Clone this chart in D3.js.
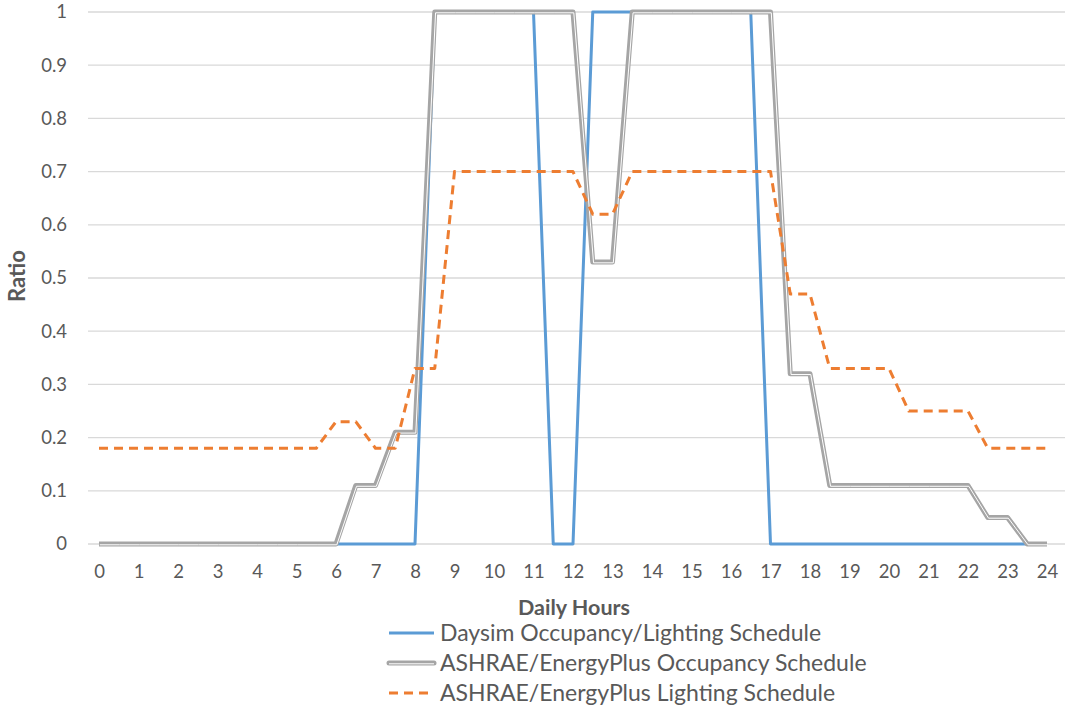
<!DOCTYPE html>
<html>
<head>
<meta charset="utf-8">
<script src="https://cdn.jsdelivr.net/npm/d3@7"></script>
<style>
  html, body { margin: 0; padding: 0; background: #fff; }
  svg { display: block; }
  text { font-family: Lato, "Open Sans", sans-serif; fill: #595959; }
</style>
</head>
<body>
<svg id="chart" width="1065" height="710"></svg>
<script>
// Half-hourly time steps, 0 to 24 h
const hours = d3.range(0, 24.01, 0.5);

// Daysim occupancy / lighting schedule
const daysim = [
  0, 0, 0, 0, 0, 0, 0, 0, 0, 0, 0, 0,      // 0 - 5.5
  0, 0, 0, 0, 0, 1, 1, 1, 1, 1, 1, 0,      // 6 - 11.5
  0, 1, 1, 1, 1, 1, 1, 1, 1, 1, 0, 0,      // 12 - 17.5
  0, 0, 0, 0, 0, 0, 0, 0, 0, 0, 0, 0,      // 18 - 23.5
  0                                        // 24
];

// ASHRAE / EnergyPlus occupancy schedule
const ashraeOcc = [
  0, 0, 0, 0, 0, 0, 0, 0, 0, 0, 0, 0,
  0, 0.11, 0.11, 0.21, 0.21, 1, 1, 1, 1, 1, 1, 1,
  1, 0.53, 0.53, 1, 1, 1, 1, 1, 1, 1, 1, 0.32,
  0.32, 0.11, 0.11, 0.11, 0.11, 0.11, 0.11, 0.11, 0.11, 0.05, 0.05, 0,
  0
];

// ASHRAE / EnergyPlus lighting schedule
const ashraeLight = [
  0.18, 0.18, 0.18, 0.18, 0.18, 0.18, 0.18, 0.18, 0.18, 0.18, 0.18, 0.18,
  0.23, 0.23, 0.18, 0.18, 0.33, 0.33, 0.7, 0.7, 0.7, 0.7, 0.7, 0.7,
  0.7, 0.62, 0.62, 0.7, 0.7, 0.7, 0.7, 0.7, 0.7, 0.7, 0.7, 0.47,
  0.47, 0.33, 0.33, 0.33, 0.33, 0.25, 0.25, 0.25, 0.25, 0.18, 0.18, 0.18,
  0.18
];

const xTicks = d3.range(0, 25, 1);
const yTicks = [0, 0.1, 0.2, 0.3, 0.4, 0.5, 0.6, 0.7, 0.8, 0.9, 1];

const seriesNames = [
  "Daysim Occupancy/Lighting Schedule",
  "ASHRAE/EnergyPlus Occupancy Schedule",
  "ASHRAE/EnergyPlus Lighting Schedule"
];

const svg = d3.select("#chart");

const x = d3.scaleLinear().domain([0, 24]).range([99, 1047]);
const y = d3.scaleLinear().domain([0, 1]).range([544, 12]);

// Horizontal gridlines
svg.append("g")
  .selectAll("line")
  .data(yTicks)
  .join("line")
  .attr("x1", 88).attr("x2", 1065)
  .attr("y1", d => y(d)).attr("y2", d => y(d))
  .attr("stroke", "#d9d9d9").attr("stroke-width", 1.3);

// Y axis labels
const yAxis = d3.axisLeft(y).tickValues(yTicks).tickSize(0).tickPadding(0)
  .tickFormat(d => d3.format("~g")(d));
svg.append("g")
  .attr("transform", "translate(67,0)")
  .call(yAxis)
  .call(g => g.select(".domain").remove())
  .call(g => g.selectAll("text")
    .attr("font-family", "Lato, 'Open Sans', sans-serif")
    .attr("font-size", 18.5).attr("fill", "#595959"));

// X axis labels
const xAxis = d3.axisBottom(x).tickValues(xTicks).tickSize(0).tickPadding(0)
  .tickFormat(d3.format("d"));
svg.append("g")
  .attr("transform", "translate(0,565)")
  .call(xAxis)
  .call(g => g.select(".domain").remove())
  .call(g => g.selectAll("text")
    .attr("font-family", "Lato, 'Open Sans', sans-serif")
    .attr("font-size", 18.5).attr("fill", "#595959"));

// Axis titles
svg.append("text")
  .attr("transform", "translate(25,276) rotate(-90)")
  .attr("text-anchor", "middle")
  .attr("font-size", 22).attr("font-weight", "bold")
  .text("Ratio");

svg.append("text")
  .attr("x", 574).attr("y", 615)
  .attr("text-anchor", "middle")
  .attr("font-size", 21.5).attr("font-weight", "bold")
  .text("Daily Hours");

const line = (vals) => d3.line()
  .x((d, i) => x(hours[i]))
  .y(d => y(d))(vals);

// Daysim series
svg.append("path")
  .attr("d", line(daysim))
  .attr("fill", "none").attr("stroke", "#5b9bd5")
  .attr("stroke-width", 3).attr("stroke-linejoin", "round");

// ASHRAE occupancy: double-stroke gray line
svg.append("path")
  .attr("d", line(ashraeOcc))
  .attr("fill", "none").attr("stroke", "#a5a5a5")
  .attr("stroke-width", 5).attr("stroke-linejoin", "round");
svg.append("path")
  .attr("d", line(ashraeOcc))
  .attr("transform", "translate(0.8,0.8)")
  .attr("fill", "none").attr("stroke", "#ffffff")
  .attr("stroke-width", 1).attr("stroke-linejoin", "round");

// ASHRAE lighting: dashed orange line
svg.append("path")
  .attr("d", line(ashraeLight))
  .attr("fill", "none").attr("stroke", "#ed7d31")
  .attr("stroke-width", 3).attr("stroke-dasharray", "9,6")
  .attr("stroke-linejoin", "round");

// Legend
const legend = svg.append("g");
const rows = [633, 663, 693];
seriesNames.forEach((name, i) => {
  const g = legend.append("g").attr("transform", `translate(0,${rows[i]})`);
  if (i === 0) {
    g.append("line").attr("x1", 389).attr("x2", 434)
      .attr("stroke", "#5b9bd5").attr("stroke-width", 3);
  } else if (i === 1) {
    g.append("line").attr("x1", 389).attr("x2", 434)
      .attr("stroke", "#a5a5a5").attr("stroke-width", 5).attr("stroke-linecap", "round");
    g.append("line").attr("x1", 389).attr("x2", 434).attr("y1", 0.8).attr("y2", 0.8)
      .attr("stroke", "#fff").attr("stroke-width", 1);
  } else {
    g.append("line").attr("x1", 389).attr("x2", 434)
      .attr("stroke", "#ed7d31").attr("stroke-width", 3).attr("stroke-dasharray", "9,6");
  }
  g.append("text").attr("x", 440).attr("y", 0).attr("dy", "0.35em")
    .attr("font-size", 23).text(name);
});
</script>
</body>
</html>
